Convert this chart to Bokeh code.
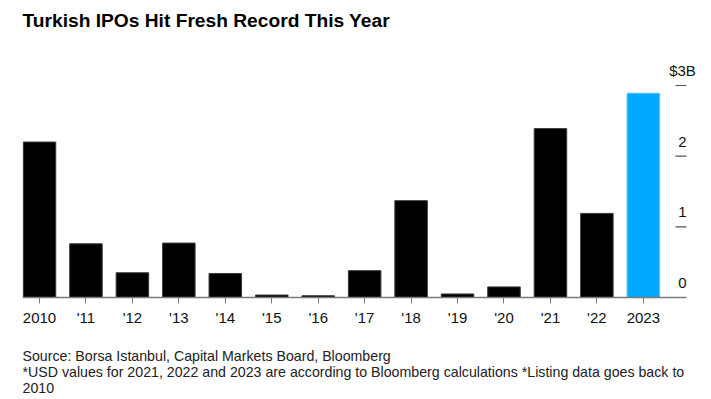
from bokeh.plotting import figure
from bokeh.models import ColumnDataSource, FixedTicker, LabelSet, Label, Range1d
from bokeh.core.properties import value
from bokeh.embed import file_html
from bokeh.resources import INLINE

# ---- data ----
years = ["2010", "'11", "'12", "'13", "'14", "'15", "'16", "'17", "'18", "'19", "'20", "'21", "'22", "2023"]
ipo_usd_bn = [2.20, 0.76, 0.35, 0.77, 0.34, 0.035, 0.025, 0.38, 1.37, 0.05, 0.15, 2.39, 1.19, 2.89]
bar_colors = ["#000000"] * 13 + ["#00a8ff"]
bar_outline = ["#3a3a3a"] * 13 + ["#4fc3ff"]
ytick_values = [0, 1, 2, 3]
ytick_labels = ["0", "1", "2", "$3B"]
title_text = "Turkish IPOs Hit Fresh Record This Year"
footnotes = [
    "Source: Borsa Istanbul, Capital Markets Board, Bloomberg",
    "*USD values for 2021, 2022 and 2023 are according to Bloomberg calculations *Listing data goes back to",
    "2010",
]

FONT = "Liberation Sans"
idx = list(range(len(years)))
src = ColumnDataSource(dict(x=idx, top=ipo_usd_bn, color=bar_colors, line=bar_outline))

X0, X_AXIS_END, X1 = -0.366, 13.929, 14.295
p = figure(width=703, height=397, output_backend="svg", toolbar_location=None,
           x_range=Range1d(X0, X1), y_range=Range1d(-1.415, 3.679),
           y_axis_location=None,
           min_border_left=22, min_border_right=0, min_border_top=37, min_border_bottom=0)
p.outline_line_color = None
p.xgrid.visible = False
p.ygrid.visible = False
p.background_fill_color = "white"

p.vbar(x="x", top="top", bottom=0, width=0.70, source=src,
       fill_color="color", line_color="line", line_width=1)

# baseline (axis line) stopping just after the right-hand tick marks
p.segment(x0=[X0], y0=[0], x1=[X_AXIS_END], y1=[0], line_color="#7a7a7a", line_width=1.5)

# x axis drawn at y = 0 (ticks and labels only)
ax = p.xaxis[0]
ax.fixed_location = 0
ax.ticker = FixedTicker(ticks=idx)
ax.major_label_overrides = {i: y for i, y in zip(idx, years)}
ax.axis_line_color = None
ax.major_tick_line_color = "#7a7a7a"
ax.major_tick_out = 6
ax.major_tick_in = 0
ax.minor_tick_line_color = None
ax.major_label_text_font = FONT
ax.major_label_text_font_size = "15px"
ax.major_label_text_color = "#111111"
ax.major_label_standoff = 5

# right-side y ticks and labels (inside the frame, labels above ticks)
p.scatter(x=[13.81] * 3, y=ytick_values[1:], marker="dash", size=11,
          line_color="#555555", line_width=1.2)
ylab_src = ColumnDataSource(dict(x=[660] * len(ytick_values), y=ytick_values, text=ytick_labels))
p.add_layout(LabelSet(x="x", y="y", text="text", x_units="screen", y_units="data",
                      source=ylab_src, text_align="center", text_baseline="middle",
                      y_offset=14.5, text_font=value(FONT), text_font_size=value("15px"),
                      text_color="#111111"))

# title
p.title.text = title_text
p.title.text_font = FONT
p.title.text_font_size = "19.2px"
p.title.text_font_style = "bold"
p.title.align = "left"
p.title.text_color = "#000000"
p.title.standoff = 13

# footnotes (screen units measured from the frame's bottom-left corner)
for i, t in enumerate(footnotes):
    p.add_layout(Label(x=0, y=41.5 - 16 * i, x_units="screen", y_units="screen", text=t,
                       text_font=FONT, text_font_size="14.2px", text_color="#222222",
                       text_baseline="middle"))

open("out.html", "w").write(file_html(p, INLINE))
